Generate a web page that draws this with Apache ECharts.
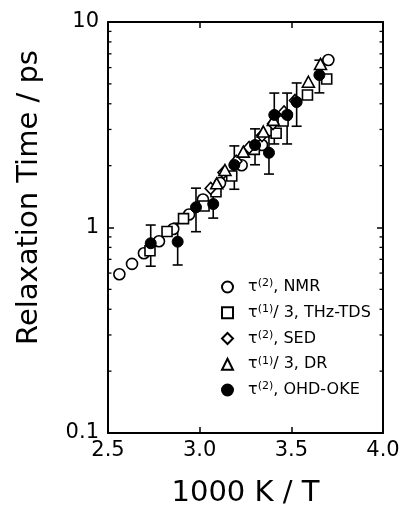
<!DOCTYPE html>
<html>
<head>
<meta charset="utf-8">
<script src="https://cdn.jsdelivr.net/npm/echarts@6/dist/echarts.min.js"></script>
<style>html,body{margin:0;padding:0;background:#fff;}#c{width:406px;height:508px;}</style>
</head>
<body>
<div id="c"></div>
<script>
// ---- data (x = 1000 K / T, y = relaxation time / ps) ----
const nmrX = [2.562, 2.631, 2.696, 2.778, 2.856, 2.942, 3.018, 3.111, 3.229, 3.340, 3.476, 3.702];
const nmrY = [0.592, 0.665, 0.749, 0.857, 0.983, 1.157, 1.368, 1.646, 2.01, 2.52, 3.53, 6.53];
const thzX = [2.729, 2.822, 2.912, 3.024, 3.089, 3.175, 3.298, 3.417, 3.455, 3.588, 3.693];
const thzY = [0.771, 0.956, 1.104, 1.272, 1.493, 1.781, 2.401, 2.873, 3.30, 4.41, 5.28];
const sedX = [3.06, 3.13, 3.20, 3.27, 3.34, 3.40, 3.46, 3.52];
const sedY = [1.55, 1.85, 2.10, 2.45, 2.80, 3.20, 3.65, 4.15];
const drX = [3.093, 3.138, 3.238, 3.347, 3.402, 3.593, 3.659];
const drY = [1.64, 1.905, 2.34, 2.93, 3.34, 5.12, 6.25];
const okeX = [2.733, 2.880, 2.980, 3.074, 3.189, 3.302, 3.378, 3.407, 3.477, 3.529, 3.653];
const okeY = [0.838, 0.853, 1.254, 1.301, 2.015, 2.52, 2.31, 3.53, 3.53, 4.08, 5.52];
const okeErr = [0.19, 0.196, 0.30, 0.19, 0.48, 0.50, 0.49, 0.98, 0.98, 0.97, 1.0];
const xTicks = [2.5, 3.0, 3.5, 4.0];
const yTicks = [0.1, 1, 10];
const minorTickVals = [0.2,0.3,0.4,0.5,0.6,0.7,0.8,0.9,2,3,4,5,6,7,8,9];
const names = ['NMR', 'THz', 'SED', 'DR', 'OKE'];
const legendLabels = {
  NMR: '{t|τ}{s|(2)}{t|, NMR}',
  THz: '{t|τ}{s|(1)}{t|/ 3, THz-TDS}',
  SED: '{t|τ}{s|(2)}{t|, SED}',
  DR:  '{t|τ}{s|(1)}{t|/ 3, DR}',
  OKE: '{t|τ}{s|(2)}{t|, OHD-OKE}'
};

const FONT = 'DejaVu Sans';
const zip = (a, b) => a.map((v, i) => [v, b[i]]);
const hollow = {color: '#fff', borderColor: '#000', borderWidth: 1.6, opacity: 1};

const chart = echarts.init(document.getElementById('c'), null, {renderer: 'canvas'});
const axisCommon = {
  axisLine: {show: true, lineStyle: {color: '#000', width: 2}},
  axisTick: {show: true, inside: true, length: 6, lineStyle: {color: '#000', width: 1.5}},
  splitLine: {show: false}
};
chart.setOption({
  backgroundColor: '#fff',
  animation: false,
  grid: {left: 108, right: 23, top: 22, bottom: 75, containLabel: false, outerBoundsMode: 'none'},
  xAxis: [
    Object.assign({
      type: 'value', min: xTicks[0], max: xTicks[xTicks.length - 1], interval: 0.5, position: 'bottom',
      axisLabel: {color: '#000', fontFamily: FONT, fontSize: 21, margin: 7, formatter: v => v.toFixed(1)},
      name: '1000 K / T', nameLocation: 'middle', nameGap: 46,
      nameTextStyle: {color: '#000', fontFamily: FONT, fontSize: 29}
    }, axisCommon),
    Object.assign({
      type: 'value', min: xTicks[0], max: xTicks[xTicks.length - 1], interval: 0.5, position: 'top',
      axisLabel: {show: false}
    }, axisCommon)
  ],
  yAxis: [
    Object.assign({
      type: 'log', logBase: 10, min: yTicks[0], max: yTicks[yTicks.length - 1], position: 'left',
      axisLabel: {color: '#000', fontFamily: FONT, fontSize: 21, margin: 9, formatter: v => (v < 1 ? '0.1' : String(Math.round(v)))},
      name: 'Relaxation Time / ps', nameLocation: 'middle', nameGap: 64,
      nameTextStyle: {color: '#000', fontFamily: FONT, fontSize: 29, padding: [0, 0, 0, 60]}
    }, axisCommon),
    Object.assign({
      type: 'log', logBase: 10, min: yTicks[0], max: yTicks[yTicks.length - 1], position: 'right',
      axisLabel: {show: false}
    }, axisCommon)
  ],
  legend: {
    data: names,
    orient: 'vertical', left: 216, top: 273, itemWidth: 11, itemHeight: 11, itemGap: 8.75,
    formatter: n => legendLabels[n],
    textStyle: {
      color: '#000', fontFamily: FONT, fontSize: 16, padding: [0, 0, 0, 10],
      rich: {
        t: {color: '#000', fontFamily: FONT, fontSize: 16, lineHeight: 18},
        s: {color: '#000', fontFamily: FONT, fontSize: 11, lineHeight: 18, verticalAlign: 'top', padding: [0, 0, 6, 0]}
      }
    }
  },
  series: [
    {
      type: 'custom', name: 'minorTicks', clip: false, silent: true, z: 1,
      data: minorTickVals.map(v => [xTicks[0], v]),
      renderItem: (params, api) => {
        const l = api.coord([xTicks[0], api.value(1)]);
        const r = api.coord([xTicks[xTicks.length - 1], api.value(1)]);
        const st = {stroke: '#000', lineWidth: 1.3};
        return {type: 'group', children: [
          {type: 'line', shape: {x1: l[0], y1: l[1], x2: l[0] + 3.5, y2: l[1]}, style: st},
          {type: 'line', shape: {x1: r[0] - 3.5, y1: r[1], x2: r[0], y2: r[1]}, style: st}
        ]};
      }
    },
    {
      type: 'custom', name: 'errbars', clip: false, silent: true, z: 2,
      data: okeX.map((x, i) => [x, okeY[i], okeErr[i]]),
      renderItem: (params, api) => {
        const x = api.value(0), y = api.value(1), e = api.value(2);
        const hi = api.coord([x, y + e]);
        const lo = api.coord([x, y - e]);
        const st = {stroke: '#000', lineWidth: 1.6};
        return {type: 'group', children: [
          {type: 'line', shape: {x1: hi[0], y1: hi[1], x2: lo[0], y2: lo[1]}, style: st},
          {type: 'line', shape: {x1: hi[0] - 5, y1: hi[1], x2: hi[0] + 5, y2: hi[1]}, style: st},
          {type: 'line', shape: {x1: lo[0] - 5, y1: lo[1], x2: lo[0] + 5, y2: lo[1]}, style: st}
        ]};
      }
    },
    {name: 'NMR', type: 'scatter', symbol: 'circle', symbolSize: 11, data: zip(nmrX, nmrY), itemStyle: hollow, z: 3},
    {name: 'THz', type: 'scatter', symbol: 'rect', symbolSize: 10, data: zip(thzX, thzY), itemStyle: hollow, z: 3},
    {name: 'SED', type: 'scatter', symbol: 'diamond', symbolSize: [11, 12], data: zip(sedX, sedY), itemStyle: hollow, z: 3},
    {name: 'DR', type: 'scatter', symbol: 'triangle', symbolSize: [12, 11], data: zip(drX, drY), itemStyle: hollow, z: 3},
    {name: 'OKE', type: 'scatter', symbol: 'circle', symbolSize: 11, data: zip(okeX, okeY), itemStyle: {color: '#000', borderColor: '#000', borderWidth: 1, opacity: 1}, z: 4}
  ]
});
</script>
</body>
</html>
